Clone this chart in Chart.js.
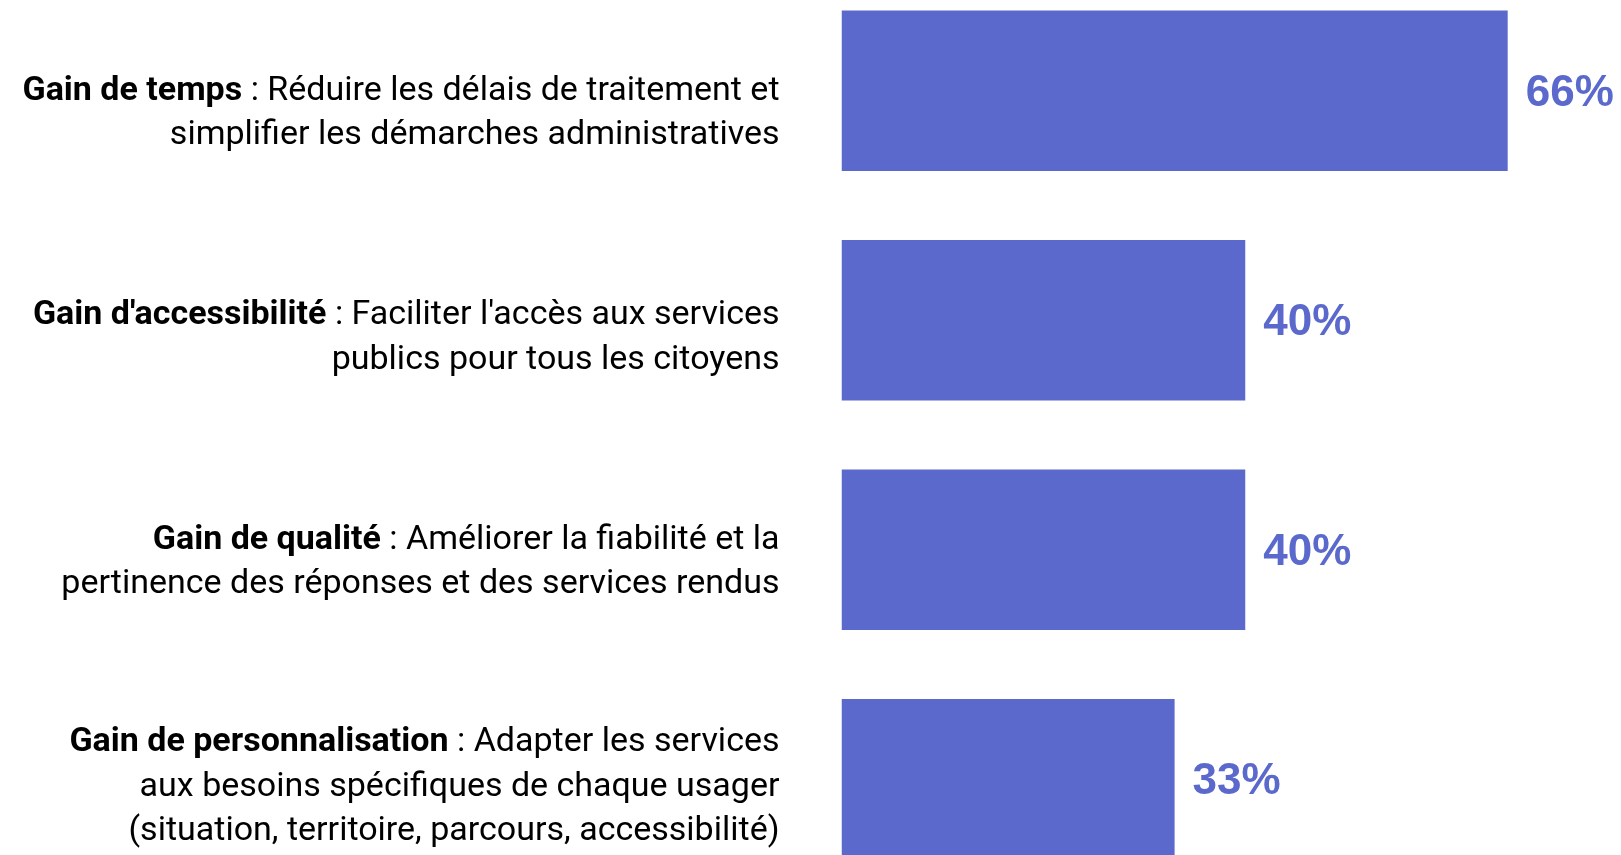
<!DOCTYPE html>
<html lang="fr">
<head>
<meta charset="utf-8">
<title>Gains attendus</title>
<script src="https://cdn.jsdelivr.net/npm/chart.js@4"></script>
<style>
    html, body{
        margin: 0;
        padding: 0;
        width: 1621px;
        height: 855px;
        overflow: hidden;
        background: #ffffff;
    }
    #zone{
        position: absolute;
        left: 0;
        top: -24px;
        width: 1649px;
        height: 918px;
    }
</style>
</head>
<body>
<div id="zone">
    <canvas id="grafica"></canvas>
</div>
<script>
// Catégories (partie en gras)
const titres = [
    "Gain de temps",
    "Gain d'accessibilité",
    "Gain de qualité",
    "Gain de personnalisation"
];

// Suite du texte de chaque catégorie, ligne par ligne
const descriptions = [
    [" : Réduire les délais de traitement et", "simplifier les démarches administratives"],
    [" : Faciliter l'accès aux services", "publics pour tous les citoyens"],
    [" : Améliorer la fiabilité et la", "pertinence des réponses et des services rendus"],
    [" : Adapter les services", "aux besoins spécifiques de chaque usager", "(situation, territoire, parcours, accessibilité)"]
];

// Valeurs en %
const valeurs = [66, 40, 40, 33];

const couleurBarre = "#5b69cc";

// Étiquettes à gauche (gras + normal) et valeurs à droite des barres
const etiquettes = {
    id: "etiquettes",
    afterDraw(chart){
        const ctx = chart.ctx;
        const area = chart.chartArea;
        const yLab = chart.scales.yLab;
        const xRight = area.left - 62;
        const hauteurLigne = 44.5;

        ctx.save();
        ctx.textBaseline = "middle";
        ctx.fillStyle = "#000000";

        for(let i = 0; i < titres.length; i++){
            const lignes = descriptions[i];
            const centre = yLab.getPixelForValue(i);
            const y0 = centre - (lignes.length - 1) * hauteurLigne / 2;

            for(let j = 0; j < lignes.length; j++){
                const y = y0 + j * hauteurLigne;
                ctx.textAlign = "right";
                ctx.font = "34px Roboto";
                ctx.fillText(lignes[j], xRight, y);
                if(j === 0){
                    const w = ctx.measureText(lignes[j]).width;
                    ctx.font = "bold 34px Roboto";
                    ctx.fillText(titres[i], xRight - w, y);
                }
            }
        }

        // Valeurs
        const meta = chart.getDatasetMeta(0);
        ctx.fillStyle = couleurBarre;
        ctx.textAlign = "left";
        ctx.textBaseline = "alphabetic";
        ctx.font = "bold 44px 'Liberation Sans'";
        meta.data.forEach((barre, i) => {
            ctx.fillText(valeurs[i] + "%", barre.x + 18, barre.y + 15);
        });
        ctx.restore();
    }
};

new Chart(document.getElementById("grafica"), {
    type: "bar",
    data: {
        labels: titres,
        datasets: [
            {
                data: valeurs,
                backgroundColor: couleurBarre,
                borderWidth: 0,
                barPercentage: 0.7,
                categoryPercentage: 1
            }
        ]
    },
    options: {
        indexAxis: "y",
        responsive: true,
        maintainAspectRatio: false,
        animation: false,
        layout: {
            padding: { left: 841.5, right: 0, top: 0, bottom: 0 }
        },
        plugins: {
            legend: { display: false },
            tooltip: { enabled: false }
        },
        scales: {
            x: {
                display: false,
                min: 0,
                max: 80
            },
            y: {
                display: false
            },
            // axe caché pour placer les textes de gauche
            // (offset désactivé, sinon hérité de l'axe des catégories)
            yLab: {
                type: "linear",
                display: false,
                offset: false,
                bounds: "data",
                reverse: true,
                min: -0.613,
                max: 3.476
            }
        }
    },
    plugins: [etiquettes]
});
</script>
</body>
</html>
